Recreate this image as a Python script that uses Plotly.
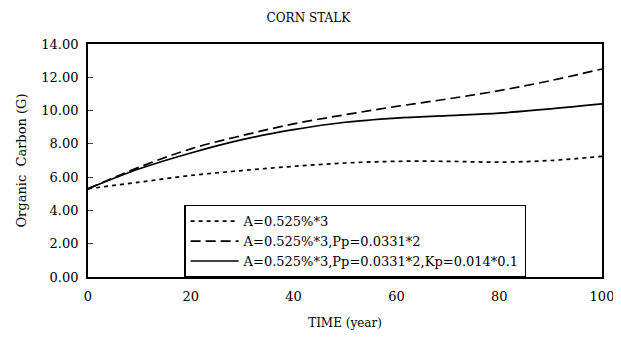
import plotly.graph_objects as go

years = [0, 10, 20, 30, 40, 50, 60, 70, 80, 90, 100]
s_a = [5.3, 5.7, 6.1, 6.4, 6.65, 6.85, 6.95, 6.95, 6.9, 7.0, 7.25]
s_ap = [5.3, 6.6, 7.7, 8.5, 9.2, 9.75, 10.25, 10.7, 11.2, 11.8, 12.5]
s_apk = [5.3, 6.5, 7.45, 8.25, 8.85, 9.3, 9.55, 9.7, 9.85, 10.1, 10.4]
names = ["A=0.525%*3", "A=0.525%*3,Pp=0.0331*2", "A=0.525%*3,Pp=0.0331*2,Kp=0.014*0.1"]
y_ticks = [0, 2, 4, 6, 8, 10, 12, 14]
x_ticks = [0, 20, 40, 60, 80, 100]

fig = go.Figure()
for vals, nm, dash in [(s_a, names[0], "4px,4px"), (s_ap, names[1], "10px,5px"), (s_apk, names[2], "solid")]:
    fig.add_trace(go.Scatter(x=years, y=vals, name=nm, mode="lines",
                             line=dict(color="black", width=1.7, dash=dash, shape="spline")))

font = "DejaVu Serif, Liberation Serif, serif"
# page body has an 8px margin, so the figure is offset by (8, 8)
fig.update_layout(
    width=613, height=340,
    margin=dict(l=80, r=19, t=36, b=71),
    paper_bgcolor="white", plot_bgcolor="white",
    font=dict(family=font, size=13, color="black"),
    title=dict(text="CORN STALK", x=0.49, xanchor="center", y=0.97, yanchor="middle",
               font=dict(family=font, size=12, color="black")),
    showlegend=True,
    legend=dict(x=0.187, y=0.31, xanchor="left", yanchor="top",
                bordercolor="black", borderwidth=1.5, bgcolor="white",
                font=dict(family=font, size=13, color="black"),
                tracegroupgap=0, itemwidth=48),
    xaxis=dict(range=[0, 100], tickvals=x_ticks, ticks="inside", ticklen=5,
               showline=True, linecolor="black", linewidth=1.7, mirror=True,
               showgrid=False, zeroline=False, automargin=False,
               ticklabeloverflow="allow", ticklabelstandoff=7,
               tickfont=dict(family=font, size=13),
               title=dict(text="TIME (year)", font=dict(family=font, size=12), standoff=15)),
    yaxis=dict(range=[0, 14], tickvals=y_ticks, tickformat=".2f", ticks="inside", ticklen=5,
               showline=True, linecolor="black", linewidth=1.7, mirror=True,
               showgrid=False, zeroline=False, automargin=False,
               ticklabeloverflow="allow", ticklabelstandoff=5,
               tickfont=dict(family=font, size=13),
               title=dict(text="Organic  Carbon (G)", font=dict(family=font, size=13), standoff=12)),
)
fig.write_html("out.html")
